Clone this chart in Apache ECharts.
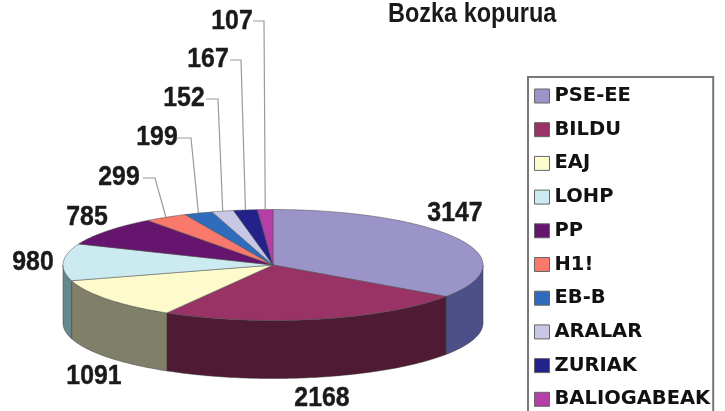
<!DOCTYPE html>
<html>
<head>
<meta charset="utf-8">
<title>Bozka kopurua</title>
<script src="https://cdn.jsdelivr.net/npm/echarts@6/dist/echarts.min.js"></script>
<style>
  html, body { margin: 0; padding: 0; background: #fff; }
  #main { width: 725px; height: 411px; }
</style>
</head>
<body>
<div id="main"></div>
<script>
// data
var chartTitle = 'Bozka kopurua';
var parties = ['PSE-EE', 'BILDU', 'EAJ', 'LOHP', 'PP', 'H1!', 'EB-B', 'ARALAR', 'ZURIAK', 'BALIOGABEAK'];
var votes = [3147, 2168, 1091, 980, 785, 299, 199, 152, 167, 107];

// colours
var topColors = ['#9a94c9', '#993366', '#fdfbcc', '#ccebf0', '#65156e', '#f9796c', '#2f6cbd', '#c8c8e6', '#22228a', '#b53fa6'];
var sideColors = ['#4d4f88', '#4f1a33', '#80806a', '#66878c', '#33083a', '#7c3c36', '#18365e', '#646473', '#111145', '#5a2053'];

// layout of the disc
var cx = 273, cy = 265, rx = 210, ry = 55.5, depth = 58;
// centre of each number
var labelPos = [[455, 214], [322, 399], [94, 377], [33, 263], [87, 218], [119, 178], [157, 138], [184, 99], [208, 60], [232, 22]];
// the fixed start of each leader line, the end goes to the rim
var leaders = [null, null, null, null, null,
  [[143, 178], [155, 178]], [[177, 138], [191, 138]], [[206, 99], [218, 99]], [[230, 60], [241, 60]], [[253, 21], [264, 21]]];

var total = votes.reduce(function (a, b) { return a + b; }, 0);

// point on the rim, angle in degrees clockwise from 12 o'clock
function rim(deg, dy) {
  var r = deg * Math.PI / 180;
  return [cx + rx * Math.sin(r), cy - ry * Math.cos(r) + (dy || 0)];
}

function arc(from, to, dy) {
  var pts = [];
  var n = Math.max(2, Math.ceil(Math.abs(to - from)));
  for (var i = 0; i <= n; i++) {
    pts.push(rim(from + (to - from) * i / n, dy));
  }
  return pts;
}

function makeRenderItem(idx) {
  return function (params, api) {
    var before = votes.slice(0, idx).reduce(function (a, b) { return a + b; }, 0);
    var start = before / total * 360;
    var end = (before + api.value(0)) / total * 360;
    var children = [];

    // front wall, only the part between 90 and 270 degrees is seen
    var a = Math.max(start, 90), b = Math.min(end, 270);
    if (b > a) {
      children.push({
        type: 'polygon',
        shape: { points: arc(a, b, 0).concat(arc(b, a, depth)) },
        style: { fill: sideColors[idx], stroke: '#3a3a3a', lineWidth: 0.5 }
      });
    }

    // top face
    children.push({
      type: 'polygon',
      shape: { points: [[cx, cy]].concat(arc(start, end, 0)) },
      style: { fill: topColors[idx], stroke: '#4a4a4a', lineWidth: 0.5 }
    });

    if (leaders[idx]) {
      children.push({
        type: 'polyline',
        shape: { points: leaders[idx].concat([rim((start + end) / 2 , 0)]) },
        style: { fill: null, stroke: '#9a9a9a', lineWidth: 1.2 }
      });
    }

    children.push({
      type: 'text',
      x: labelPos[idx][0],
      y: labelPos[idx][1],
      scaleX: 0.92,
      style: {
        text: String(api.value(0)),
        fill: '#1a1a1a',
        stroke: '#1a1a1a',
        lineWidth: 0.4,
        font: 'bold 27px "Liberation Sans"',
        align: 'center',
        verticalAlign: 'middle'
      }
    });

    return { type: 'group', children: children };
  };
}

var series = parties.map(function (name, i) {
  return {
    name: name,
    type: 'custom',
    coordinateSystem: 'none',
    animation: false,
    silent: true,
    itemStyle: { color: topColors[i] },
    renderItem: makeRenderItem(i),
    data: [[votes[i]]]
  };
});

var myChart = echarts.init(document.getElementById('main'), null, { renderer: 'canvas' });
myChart.setOption({
  backgroundColor: '#ffffff',
  animation: false,
  graphic: [{
    type: 'text',
    x: 388,
    y: 15,
    scaleX: 0.87,
    silent: true,
    style: {
      text: chartTitle,
      fill: '#1a1a1a',
      font: 'bold 27px "Liberation Sans"',
      align: 'left',
      verticalAlign: 'middle'
    }
  }],
  legend: {
    orient: 'vertical',
    left: 528,
    top: 77,
    height: 345,
    selectedMode: false,
    icon: 'rect',
    itemWidth: 15,
    itemHeight: 14,
    itemGap: 13.7,
    padding: [9, 3, 12, 6],
    borderColor: '#777777',
    borderWidth: 2,
    backgroundColor: '#ffffff',
    textStyle: {
      fontFamily: '"DejaVu Sans"',
      fontWeight: 'bold',
      fontSize: 19.5,
      lineHeight: 20,
      color: '#111111'
    },
    data: parties.map(function (name) {
      return { name: name, itemStyle: { borderColor: '#666666', borderWidth: 1 } };
    })
  },
  series: series
});
</script>
</body>
</html>
